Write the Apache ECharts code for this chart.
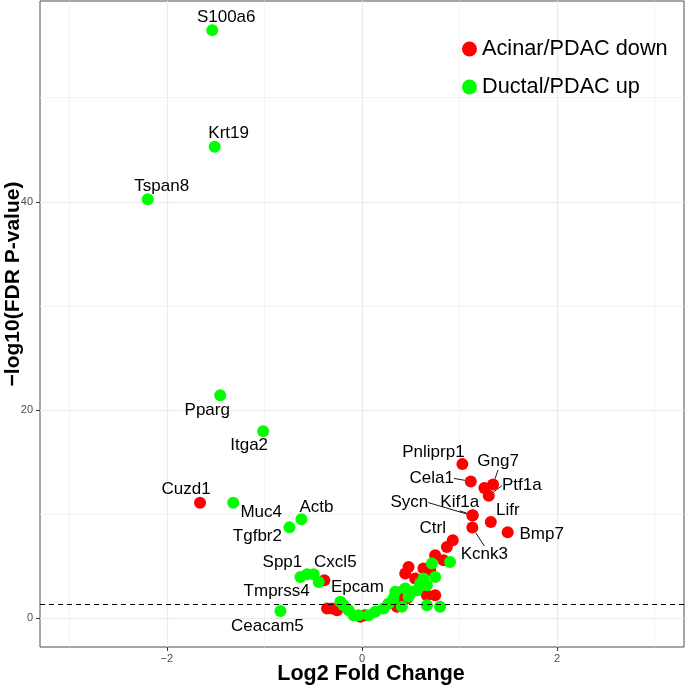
<!DOCTYPE html>
<html><head><meta charset="utf-8">
<script src="https://cdn.jsdelivr.net/npm/echarts@6/dist/echarts.min.js"></script>
<style>html,body{margin:0;padding:0;background:#fff}#c{width:685px;height:688px}</style>
</head><body><div id="c"></div>
<script>
// ---- data ----
const seriesNames = ['Acinar/PDAC down', 'Ductal/PDAC up'];

const acinarLogFC = [-1.66, -0.386, -0.358, -0.307, -0.256, -0.017, 0.034, 0.358, 0.375, 0.409,
  0.46, 0.443, 0.477, 0.545, 0.63, 0.699, 0.665, 0.75, 0.75, 0.835,
  0.87, 0.93, 1.029, 1.115, 1.254, 1.343, 1.299, 1.131, 1.135, 1.131, 1.32, 1.493];
const acinarNegLogP = [11.07, 3.62, 0.90, 0.90, 0.74, 0.10, 0.26, 1.06, 1.86, 2.50,
  1.86, 4.26, 4.89, 3.78, 4.74, 4.58, 2.18, 2.18, 6.02, 5.54,
  6.82, 7.46, 14.78, 13.12, 12.48, 12.83, 11.75, 9.83, 9.86, 8.68, 9.21, 8.22];
const acinarGenes = ['Cuzd1', 'Cxcl5', '', '', '', '', '', '', '', '',
  '', '', '', '', '', '', '', '', '', '',
  '', 'Ctrl', 'Pnliprp1', 'Cela1', '', 'Gng7', 'Ptf1a', 'Sycn', 'Kif1a', 'Kcnk3', 'Lifr', 'Bmp7'];

const ductalLogFC = [-1.535, -1.51, -2.196, -1.453, -1.013, -1.32, -0.621, -0.744, -0.631, -0.563,
  -0.495, -0.444, -0.836, -0.222, -0.188, -0.137, -0.086, -0.035, 0.068, 0.136,
  0.22, 0.272, 0.323, 0.341, 0.409, 0.443, 0.477, 0.511, 0.563, 0.596,
  0.665, 0.63, 0.75, 0.716, 0.903, 0.665, 0.80];
const ductalNegLogP = [56.5, 45.3, 40.25, 21.4, 17.95, 11.07, 9.47, 8.70, 3.93, 4.19,
  4.19, 3.45, 0.67, 1.54, 1.22, 0.74, 0.26, 0.26, 0.26, 0.58,
  0.90, 1.38, 1.86, 2.50, 1.06, 2.82, 2.02, 2.50, 2.66, 3.30,
  3.14, 3.78, 3.93, 5.22, 5.37, 1.22, 1.06];
const ductalGenes = ['S100a6', 'Krt19', 'Tspan8', 'Pparg', 'Itga2', 'Muc4', 'Actb', 'Tgfbr2', 'Spp1', '',
  '', 'Tmprss4', 'Ceacam5', 'Epcam', '', '', '', '', '', '',
  '', '', '', '', '', '', '', '', '', '',
  '', '', '', '', '', '', ''];

const xTickValues = [-2, 0, 2];
const xMinorGrid = [-3, -1, 1, 3];
const yTickValues = [0, 20, 40];
const yMinorGrid = [10, 30, 50];
const fdrCutoff = 1.301;

// ---- layout / style (kept out of the data) ----
const FONT = '"Liberation Sans", Arial, Helvetica, sans-serif';
const labelOffsets = {
  S100a6: [14, -13], Krt19: [14, -13], Tspan8: [14, -13], Pparg: [-13, 15], Itga2: [-14, 14],
  Cuzd1: [-14, -13], Muc4: [28, 10], Actb: [15, -12], Tgfbr2: [-32, 9], Spp1: [-18, -15],
  Cxcl5: [11, -18], Tmprss4: [-42, 9], Ceacam5: [-13, 15], Epcam: [17, -15],
  Pnliprp1: [-29, -12], Cela1: [-39, -3], Gng7: [5, -23], Ptf1a: [33, -10],
  Sycn: [-63, -13], Kif1a: [-13, -13], Lifr: [17, -12], Bmp7: [34, 2], Ctrl: [-20, -12], Kcnk3: [12, 27]
};
const leaderGenes = ['Cela1', 'Gng7', 'Ptf1a', 'Sycn', 'Kif1a', 'Kcnk3'];

function buildItems(xs, ys, genes) {
  return xs.map((x, i) => {
    const g = genes[i];
    const item = { value: [x, ys[i]], name: g };
    if (g) {
      item.label = { show: true, formatter: g };
      item.labelLine = { show: leaderGenes.indexOf(g) >= 0 };
    }
    return item;
  });
}
function makeLayout(genes) {
  return function (p) {
    const o = labelOffsets[genes[p.dataIndex]];
    return o ? { dx: o[0], dy: o[1] } : {};
  };
}
function pointSeries(name, color, xs, ys, genes, z) {
  return {
    name: name, type: 'scatter', symbol: 'circle', symbolSize: 12, z: z,
    itemStyle: { color: color, opacity: 1 },
    data: buildItems(xs, ys, genes),
    label: { show: false, position: 'inside', color: '#000', fontSize: 17, fontFamily: FONT, textBorderWidth: 0 },
    labelLine: { show: false, lineStyle: { color: '#000', width: 0.9 } },
    labelLayout: makeLayout(genes),
    emphasis: { disabled: true }
  };
}
const fmt = v => (v < 0 ? '\u2212' + Math.abs(v) : String(v));

const chart = echarts.init(document.getElementById('c'), null, { renderer: 'canvas' });
chart.setOption({
  animation: false,
  backgroundColor: '#fff',
  textStyle: { fontFamily: FONT },
  grid: { left: 40, right: 1, top: 1, bottom: 41, containLabel: false, outerBoundsMode: 'none',
    show: true, borderColor: '#4d4d4d', borderWidth: 1, backgroundColor: 'transparent' },
  legend: {
    data: seriesNames, orient: 'vertical', left: 462, top: 37, padding: 0,
    icon: 'circle', itemWidth: 15, itemHeight: 15, itemGap: 14,
    itemStyle: { borderWidth: 0 }, lineStyle: { width: 0, opacity: 0 },
    textStyle: { fontSize: 21.7, lineHeight: 24, color: '#000', fontFamily: FONT }
  },
  xAxis: {
    type: 'value', min: -3.3, max: 3.3,
    name: 'Log2 Fold Change', nameLocation: 'middle', nameGap: 16, nameMoveOverlap: false,
    nameTextStyle: { fontSize: 21.5, fontWeight: 'bold', color: '#000', fontFamily: FONT, padding: [0, 0, 0, 18] },
    axisLine: { show: false, onZero: false },
    axisTick: { show: true, customValues: xTickValues, length: 4, lineStyle: { color: '#333' } },
    axisLabel: { customValues: xTickValues, formatter: fmt, color: '#4d4d4d', fontSize: 11, margin: 6, fontFamily: FONT },
    splitLine: { show: true, lineStyle: { color: '#ebebeb', width: 1.2 } }
  },
  yAxis: {
    type: 'value', min: -2.8, max: 59.3,
    name: '\u2212log10(FDR P-value)', nameLocation: 'middle', nameGap: 16, nameRotate: 90, nameMoveOverlap: false,
    nameTextStyle: { fontSize: 21, fontWeight: 'bold', color: '#000', fontFamily: FONT, padding: [0, 0, 0, 80] },
    axisLine: { show: false, onZero: false },
    axisTick: { show: true, customValues: yTickValues, length: 4, lineStyle: { color: '#333' } },
    axisLabel: { customValues: yTickValues, formatter: fmt, color: '#4d4d4d', fontSize: 11, margin: 7, fontFamily: FONT },
    splitLine: { show: true, lineStyle: { color: '#ebebeb', width: 1.2 } }
  },
  series: [
    {
      name: 'minorGrid', type: 'scatter', data: [], z: 0, silent: true,
      markLine: {
        silent: true, symbol: 'none', animation: false, z: 0, label: { show: false },
        lineStyle: { color: '#f0f0f0', width: 0.8, type: 'solid' },
        data: xMinorGrid.map(v => ({ xAxis: v })).concat(yMinorGrid.map(v => ({ yAxis: v })))
      }
    },
    pointSeries(seriesNames[0], '#FF0000', acinarLogFC, acinarNegLogP, acinarGenes, 2),
    pointSeries(seriesNames[1], '#00FF00', ductalLogFC, ductalNegLogP, ductalGenes, 3),
    {
      name: 'cutoff', type: 'scatter', data: [], z: 5, silent: true,
      markLine: {
        silent: true, symbol: 'none', animation: false, z: 5, label: { show: false },
        lineStyle: { color: '#000', width: 1, type: [5, 4] },
        data: [{ yAxis: fdrCutoff }]
      }
    }
  ]
});
</script>
</body></html>
